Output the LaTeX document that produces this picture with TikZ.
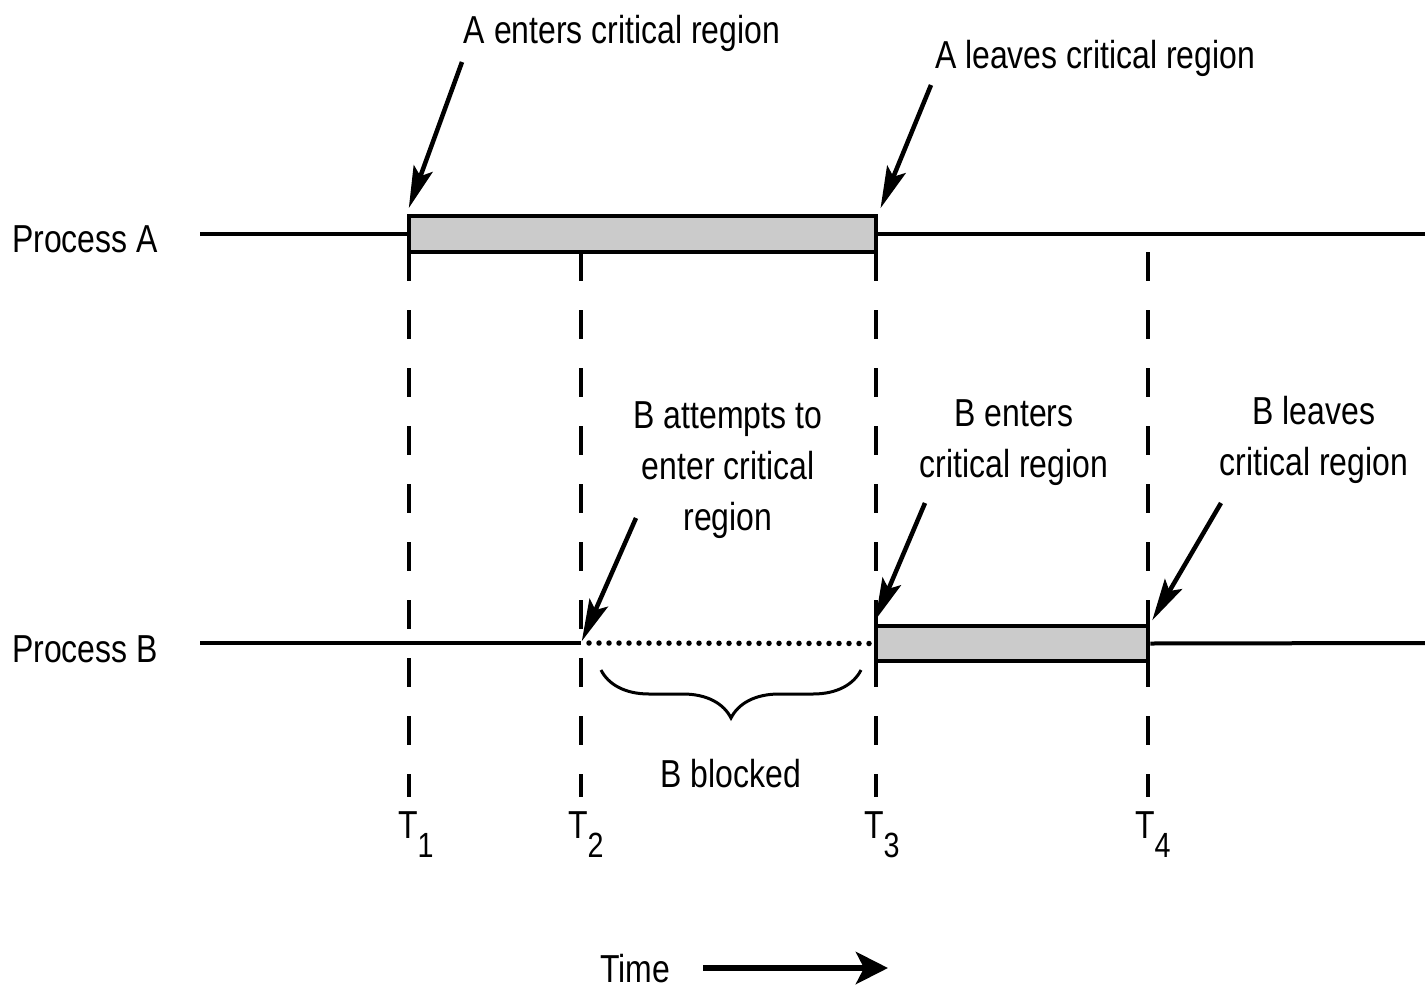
\documentclass[tikz,border=0pt]{standalone}
\usepackage{fontspec}
\setmainfont{Liberation Sans}[FakeStretch=0.82]
\usetikzlibrary{arrows.meta,decorations.pathreplacing}
\definecolor{critgray}{HTML}{CBCBCB}
\begin{document}
\begin{tikzpicture}[x=1pt,y=-1pt,
  lbl/.style={font=\fontsize{39}{51}\selectfont, inner sep=0pt, anchor=base},
  tline/.style={line width=4pt},
  crit/.style={draw, line width=4.5pt, fill=critgray, inner sep=0pt},
  vdash/.style={line width=4pt, dash pattern=on 29pt off 29pt},
  blockdots/.style={line width=5.5pt, line cap=round, dash pattern=on 0pt off 10pt},
  ptr/.style={line width=4.5pt, -{Stealth[length=42pt,width=20pt,inset=8pt]}},
  timeptr/.style={line width=6.5pt, -{Stealth[length=32pt,width=32pt,inset=8pt]}},
  brc/.style={line width=3pt, decorate, decoration={brace, mirror, amplitude=48pt}},
]
\useasboundingbox (0,0) rectangle (1425,988);
% coordinates
\coordinate (Astart) at (200,234);
\coordinate (Aend) at (1425,234);
\coordinate (Bstart) at (200,643);
\coordinate (Bend) at (1425,643);
\coordinate (t1top) at (409,252);
\coordinate (t2top) at (581,252);
\coordinate (t3top) at (876,252);
\coordinate (t4top) at (1148,252);
\coordinate (t1bot) at (409,797);
\coordinate (t2bot) at (581,797);
\coordinate (t3bot) at (876,797);
\coordinate (t4bot) at (1148,797);
\coordinate (t2b) at (581,643);
% texts
\node[lbl] (aenter) at (622,43) {A enters critical region};
\node[lbl] (aleave) at (1095,68) {A leaves critical region};
\node[lbl, anchor=base west] (procA) at (12,252) {Process A};
\node[lbl, anchor=base west] (procB) at (12,662) {Process B};
\node[lbl, align=center] (battempt) at (728,530) {B attempts to\\enter critical\\region};
\node[lbl, align=center] (benter) at (1014,477) {B enters\\critical region};
\node[lbl, align=center] (bleave) at (1314,475) {B leaves\\critical region};
\node[lbl] (bblocked) at (731,787) {B blocked};
\node[lbl, anchor=base west] (T1) at (398,838) {T\raisebox{-19pt}{\fontsize{35}{35}\selectfont 1}};
\node[lbl, anchor=base west] (T2) at (568,838) {T\raisebox{-19pt}{\fontsize{35}{35}\selectfont 2}};
\node[lbl, anchor=base west] (T3) at (864,838) {T\raisebox{-19pt}{\fontsize{35}{35}\selectfont 3}};
\node[lbl, anchor=base west] (T4) at (1135,838) {T\raisebox{-19pt}{\fontsize{35}{35}\selectfont 4}};
\node[lbl, anchor=base west] (time) at (600,982) {Time};
% dashed time markers
\draw[vdash] (t1top) -- (t1bot);
\draw[vdash] (t2top) -- (t2bot);
\draw[vdash] (t3top) -- (t3bot);
\draw[vdash] (t4top) -- (t4bot);
% boxes
\node[crit, minimum width=467pt, minimum height=36pt] (boxA) at (642.5,234) {};
\node[crit, minimum width=272pt, minimum height=35pt] (boxB) at (1012,643.5) {};
% process lines
\draw[tline] (Astart) -- (boxA.west);
\draw[tline] (boxA.east) -- (Aend);
\draw[tline] (Bstart) -- (t2b);
\draw[blockdots] ([xshift=8pt]t2b) -- ([xshift=-3pt]boxB.west);
\draw[tline] (boxB.east) -- (Bend);
% arrows
\coordinate (p1) at (462,62);
\coordinate (p2) at (931,85);
\coordinate (p3) at (636,518);
\coordinate (p4) at (925,503);
\coordinate (p5) at (1221,503);
\draw[ptr, shorten >=6pt] (p1) -- (boxA.north west);
\draw[ptr, shorten >=6pt] (p2) -- (boxA.north east);
\draw[ptr, shorten >=2pt] (p3) -- (t2b);
\draw[ptr, shorten >=4pt] (p4) -- (boxB.north west);
\draw[ptr, shorten >=4pt] (p5) -- (boxB.north east);
% brace
\coordinate (bs) at (601,670);
\coordinate (be) at (861,670);
\draw[brc] (bs) -- (be);
% time arrow
\coordinate (tstart) at (703,968);
\coordinate (tend) at (888,968);
\draw[timeptr] (tstart) -- (tend);
\end{tikzpicture}
\end{document}
